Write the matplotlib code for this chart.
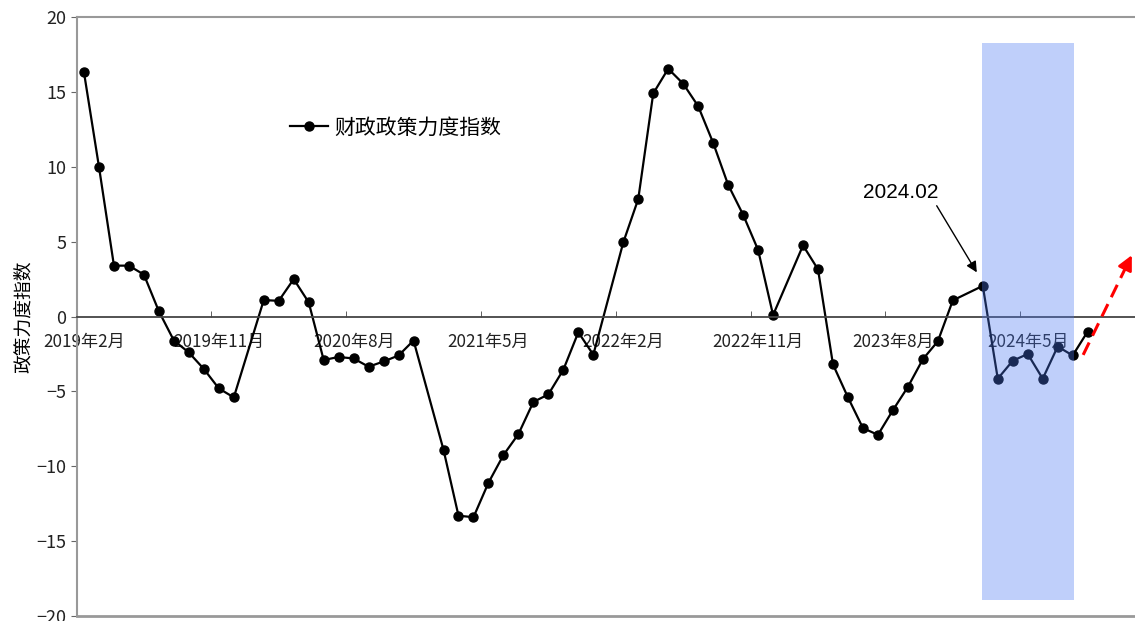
import matplotlib.pyplot as plt
from matplotlib.patches import Rectangle
import numpy as np

plt.rcParams['font.family'] = ['Noto Sans CJK SC', 'DejaVu Sans']
plt.rcParams['axes.unicode_minus'] = True

# monthly index, 2019-02 .. 2024-09 (January not published -> nan)
months = ['2019-02', '2019-03', '2019-04', '2019-05', '2019-06', '2019-07', '2019-08',
          '2019-09', '2019-10', '2019-11', '2019-12', '2020-01', '2020-02', '2020-03',
          '2020-04', '2020-05', '2020-06', '2020-07', '2020-08', '2020-09', '2020-10',
          '2020-11', '2020-12', '2021-01', '2021-02', '2021-03', '2021-04', '2021-05',
          '2021-06', '2021-07', '2021-08', '2021-09', '2021-10', '2021-11', '2021-12',
          '2022-01', '2022-02', '2022-03', '2022-04', '2022-05', '2022-06', '2022-07',
          '2022-08', '2022-09', '2022-10', '2022-11', '2022-12', '2023-01', '2023-02',
          '2023-03', '2023-04', '2023-05', '2023-06', '2023-07', '2023-08', '2023-09',
          '2023-10', '2023-11', '2023-12', '2024-01', '2024-02', '2024-03', '2024-04',
          '2024-05', '2024-06', '2024-07', '2024-08', '2024-09']
nan = np.nan
index_vals = [16.3, 10.0, 3.4, 3.4, 2.8, 0.35, -1.6, -2.4, -3.5, -4.8, -5.4,
              nan, 1.1, 1.05, 2.5, 0.95, -2.9, -2.7, -2.8, -3.35, -3.0, -2.6, -1.6,
              nan, -8.9, -13.3, -13.4, -11.1, -9.25, -7.85, -5.7, -5.2, -3.55, -1.05, -2.55,
              nan, 4.95, 7.85, 14.9, 16.55, 15.55, 14.05, 11.6, 8.8, 6.8, 4.45, 0.1,
              nan, 4.75, 3.15, -3.2, -5.4, -7.45, -7.9, -6.25, -4.7, -2.85, -1.65, 1.08,
              nan, 2.05, -4.15, -2.95, -2.5, -4.15, -2.0, -2.6, -1.0]
tick_every = 9
highlight_start = '2024-02'
highlight_end = '2024-08'
trend_start = (66.7, -2.56)   # red dashed arrow, (month index, value)
trend_end = (69.95, 4.1)

x = np.arange(len(months))
y = np.array(index_vals, dtype=float)
ok = ~np.isnan(y)

labels = []
for m in months:
    yr, mo = m.split('-')
    labels.append(yr + '年' + str(int(mo)) + '月')

fig = plt.figure(figsize=(11.35, 6.21), dpi=100)
ax = fig.add_axes([0.0678, 0.008, 0.94, 0.9645])

ax.plot(x[ok], y[ok], color='black', lw=1.6, marker='o', ms=6.5, zorder=2,
        label='财政政策力度指数')

# shaded window
i0 = months.index(highlight_start)
i1 = months.index(highlight_end)
ax.add_patch(Rectangle((i0 - 0.05, -18.9), (i1 - i0) + 0.15, 37.2,
                       facecolor='#4a78f3', alpha=0.35, lw=0, zorder=3))

# annotation
ax.annotate('2024.02', xy=(i0 - 0.4, 2.95), xytext=(54.5, 8.3),
            fontsize=15, family=['Liberation Sans', 'DejaVu Sans'],
            ha='center', va='center', zorder=4,
            arrowprops=dict(arrowstyle='-|>', color='black', lw=1.0,
                            mutation_scale=16, shrinkA=1, shrinkB=0,
                            relpos=(0.95, 0.0)))

# trend arrow
ax.plot([trend_start[0], trend_end[0] - 0.25], [trend_start[1], trend_end[1] - 0.5],
        color='red', lw=2.2, ls=(0, (4.5, 2.5)), zorder=4)
ax.annotate('', xy=trend_end, xytext=(trend_end[0] - 0.3, trend_end[1] - 0.6),
            arrowprops=dict(arrowstyle='-|>', color='red', lw=2,
                            mutation_scale=22, shrinkA=0, shrinkB=0), zorder=4)

ax.set_ylim(-20, 20)
ax.set_xlim(-0.47, -0.47 + (1143.9 - 77) / 14.98)
ax.set_yticks(range(-20, 21, 5))

ax.set_xticks(x[::tick_every])
ax.set_xticklabels(labels[::tick_every])
ax.set_xticks(x[::tick_every][1:] - 0.5, minor=True)
ax.tick_params(axis='x', which='major', length=0, pad=12, labelsize=12.3, labelcolor='#222222')
ax.tick_params(axis='x', which='minor', length=4, direction='in', color='#444444')
ax.tick_params(axis='y', length=4, direction='out', labelsize=13, labelcolor='#222222',
               color='#666666')

ax.spines['bottom'].set_position(('data', 0))
ax.spines['bottom'].set_color('#444444')
ax.spines['bottom'].set_linewidth(1.3)
for s in ['top', 'left', 'right']:
    ax.spines[s].set_color('#999999')
    ax.spines[s].set_linewidth(1.5)
ax.axhline(-20, color='#999999', lw=2, clip_on=False)

ax.set_ylabel('政策力度指数', fontsize=13.5, labelpad=2)

leg = ax.legend(loc='center left', bbox_to_anchor=(0.2, 0.816), frameon=False,
                borderpad=0, borderaxespad=0, handlelength=1.8, handletextpad=0.3,
                prop={'size': 15})

fig.savefig('out.png', dpi=100)
